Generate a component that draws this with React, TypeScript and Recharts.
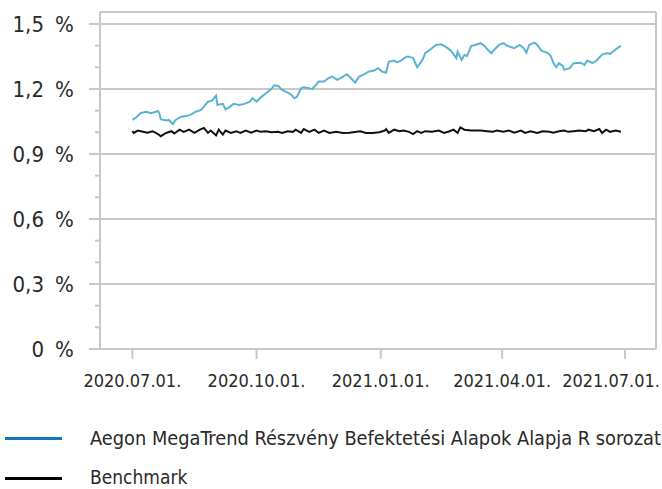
import { LineChart, Line, XAxis, YAxis, ReferenceLine } from 'recharts'

// x values are days counted from 2020-07-01
const tickDays = [0, 92, 184, 274, 365]
const tickLabels = ['2020.07.01.', '2020.10.01.', '2021.01.01.', '2021.04.01.', '2021.07.01.']
const yTicks = [0, 0.1, 0.2, 0.3, 0.4, 0.5, 0.6, 0.7, 0.8, 0.9, 1.0, 1.1, 1.2, 1.3, 1.4, 1.5]
const gridValues = [0.3, 0.6, 0.9, 1.2, 1.5]

const fundName = 'Aegon MegaTrend Részvény Befektetési Alapok Alapja R sorozat'
const benchName = 'Benchmark'

const fundDays = [
  0, 3, 6, 10, 14, 19, 20, 21, 25, 27,
  30, 32, 36, 40, 43, 47, 51, 56, 59, 62,
  63, 67, 69, 72, 75, 79, 83, 87, 89, 92,
  95, 99, 103, 105, 108, 111, 115, 117, 120, 122,
  125, 127, 131, 133, 136, 138, 142, 145, 148, 152,
  156, 159, 162, 165, 168, 172, 175, 179, 182, 185,
  188, 190, 194, 196, 199, 203, 205, 208, 211, 215,
  217, 221, 225, 229, 232, 236, 240, 241, 244, 246,
  248, 251, 254, 258, 261, 263, 266, 268, 272, 275,
  278, 283, 287, 290, 292, 294, 298, 300, 303, 305,
  308, 310, 312, 314, 316, 319, 320, 324, 327, 332,
  335, 337, 341, 344, 347, 349, 352, 354, 357, 361,
  362,
]
const fundValues = [
  1.057, 1.069, 1.088, 1.095, 1.088, 1.098, 1.088, 1.06, 1.054, 1.057,
  1.038, 1.057, 1.072, 1.075, 1.08, 1.095, 1.103, 1.141, 1.146, 1.169,
  1.126, 1.131, 1.106, 1.116, 1.131, 1.126, 1.131, 1.141, 1.157, 1.141,
  1.16, 1.18, 1.199, 1.217, 1.214, 1.195, 1.183, 1.177, 1.157, 1.164,
  1.203, 1.208, 1.203, 1.199, 1.218, 1.234, 1.234, 1.249, 1.257, 1.242,
  1.257, 1.268, 1.249, 1.229, 1.257, 1.268, 1.28, 1.285, 1.296, 1.28,
  1.275, 1.326, 1.331, 1.323, 1.331, 1.349, 1.349, 1.342, 1.3, 1.334,
  1.365, 1.383, 1.403, 1.406, 1.395, 1.377, 1.342, 1.372, 1.334, 1.357,
  1.352, 1.398, 1.403, 1.411, 1.398, 1.383, 1.365, 1.38, 1.405, 1.411,
  1.398, 1.388, 1.403, 1.388, 1.368, 1.403, 1.414, 1.403, 1.377, 1.372,
  1.365, 1.352, 1.319, 1.3, 1.319, 1.306, 1.288, 1.296, 1.319, 1.321,
  1.311, 1.331, 1.319, 1.331, 1.352, 1.362, 1.365, 1.362, 1.377, 1.395,
  1.398,
]

const benchDays = [
  0, 1, 4, 8, 11, 15, 19, 21, 25, 29,
  31, 35, 38, 42, 46, 50, 53, 56, 58, 62,
  64, 67, 69, 73, 77, 80, 84, 88, 92, 95,
  99, 103, 108, 111, 115, 119, 121, 125, 127, 131,
  135, 138, 142, 146, 151, 156, 161, 166, 169, 173,
  178, 183, 187, 188, 190, 194, 198, 201, 205, 208,
  211, 214, 217, 222, 227, 231, 235, 238, 241, 243,
  246, 251, 258, 263, 267, 270, 275, 279, 283, 288,
  291, 295, 300, 304, 309, 312, 316, 320, 323, 327,
  331, 336, 338, 342, 346, 348, 351, 354, 358, 362,
]
const benchValues = [
  1.005, 0.997, 1.008, 1.002, 0.998, 1.005, 0.992, 0.982, 0.997, 1.005,
  0.994, 1.012, 1.002, 1.012, 0.997, 1.012, 1.02, 0.997, 1.008, 0.986,
  1.012, 0.989, 1.008, 0.997, 1.005, 0.997, 1.008, 0.998, 1.008, 1.002,
  1.005, 1.0, 1.002, 0.997, 1.005, 1.002, 1.012, 0.997, 1.015, 1.002,
  1.012, 0.997, 1.008, 0.997, 1.002, 0.997, 0.998, 1.002, 1.005, 0.997,
  0.997, 1.0, 1.008, 1.015, 0.997, 1.012, 1.005, 1.008, 1.002, 0.992,
  1.005, 0.997, 1.005, 1.002, 1.008, 0.997, 1.005, 1.012, 0.997, 1.023,
  1.012, 1.008, 1.008, 1.005, 1.002, 1.008, 1.002, 1.008, 0.998, 1.008,
  0.997, 1.005, 0.997, 1.005, 1.002, 0.998, 1.005, 1.008, 1.002, 1.005,
  1.008, 1.005, 1.012, 1.005, 1.015, 0.997, 1.012, 1.002, 1.008, 1.002,
]

const fundData = fundDays.map((d, i) => ({ d, v: fundValues[i] }))
const benchData = benchDays.map((d, i) => ({ d, v: benchValues[i] }))

const gridColor = '#c8c8c8'
const textColor = '#2a2a2a'
const font = "'DejaVu Sans Condensed', 'DejaVu Sans', sans-serif"

function YTick({ y, payload }: any) {
  const v = payload.value as number
  const major = Math.round(v * 10) % 3 === 0
  const label = v === 0 ? '0' : v.toFixed(1).replace('.', ',')
  return (
    <g>
      <line x1={major ? 89 : 95} x2={100} y1={y} y2={y} stroke={gridColor} strokeWidth={2} />
      {major && (
        <>
          <text x={44} y={y} dy="0.36em" textAnchor="end" fontSize={22} fill={textColor} fontFamily={font}>
            {label}
          </text>
          <text x={55} y={y} dy="0.36em" textAnchor="start" fontSize={22} fill={textColor} fontFamily={font}>
            %
          </text>
        </>
      )}
    </g>
  )
}

function XTick({ x, payload }: any) {
  const i = tickDays.indexOf(payload.value)
  // keep the last label inside the picture, as the original does
  const tooFar = x + 45 > 662
  return (
    <g>
      <line x1={x} x2={x} y1={349} y2={359} stroke={gridColor} strokeWidth={2} />
      <text
        x={tooFar ? 660 : x}
        y={387}
        textAnchor={tooFar ? 'end' : 'middle'}
        fontSize={18}
        fill={textColor}
        fontFamily={font}
      >
        {tickLabels[i]}
      </text>
    </g>
  )
}

const legendText = {
  position: 'absolute' as const,
  left: 90,
  fontSize: 19.8,
  lineHeight: '16px',
  color: textColor,
  fontFamily: font,
  whiteSpace: 'nowrap' as const,
}

export default function App() {
  return (
    <div style={{ position: 'absolute', left: 0, top: 0, width: 662, height: 489, background: '#fff' }}>
      <LineChart width={662} height={400} margin={{ top: 12, right: 6, left: 0, bottom: 11 }}>
        {gridValues.map((g) => (
          <ReferenceLine key={g} y={g} stroke={gridColor} strokeWidth={2} />
        ))}
        <ReferenceLine y={1.555} stroke={gridColor} strokeWidth={2} />
        <ReferenceLine x={388} stroke={gridColor} strokeWidth={2} />
        <XAxis
          dataKey="d"
          type="number"
          domain={[-24, 388]}
          allowDataOverflow
          ticks={tickDays}
          interval={0}
          height={40}
          tickLine={false}
          axisLine={{ stroke: gridColor, strokeWidth: 2 }}
          tick={<XTick />}
        />
        <YAxis
          type="number"
          domain={[0, 1.555]}
          allowDataOverflow
          ticks={yTicks}
          interval={0}
          width={100}
          tickLine={false}
          axisLine={{ stroke: gridColor, strokeWidth: 2 }}
          tick={<YTick />}
        />
        <Line data={benchData} dataKey="v" stroke="#111" strokeWidth={2} dot={false} isAnimationActive={false} />
        <Line data={fundData} dataKey="v" stroke="#5ab4d1" strokeWidth={2} dot={false} isAnimationActive={false} />
      </LineChart>
      <div style={{ position: 'absolute', left: 5, top: 437, width: 57, height: 3, background: '#1a76bb' }} />
      <div style={{ ...legendText, top: 431 }}>{fundName}</div>
      <div style={{ position: 'absolute', left: 5, top: 477, width: 57, height: 3, background: '#000' }} />
      <div style={{ ...legendText, top: 469, fontSize: 19 }}>{benchName}</div>
    </div>
  )
}
